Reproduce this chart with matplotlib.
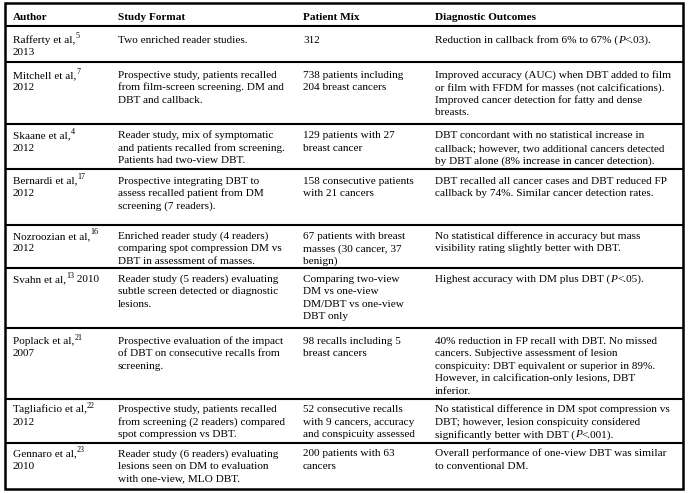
import re
import matplotlib
matplotlib.use('Agg')
import matplotlib.pyplot as plt

plt.rcParams['font.family'] = ['Liberation Serif', 'DejaVu Serif']

headers = ['Author', 'Study Format', 'Patient Mix', 'Diagnostic Outcomes']

# ^{..} = superscript, *..* = italic
authors = [
    'Rafferty et al,^{5}\n2013',
    'Mitchell et al,^{7}\n2012',
    'Skaane et al,^{4}\n2012',
    'Bernardi et al,^{17}\n2012',
    'Nozroozian et al,^{16}\n2012',
    'Svahn et al,^{13} 2010',
    'Poplack et al,^{21}\n2007',
    'Tagliaficio et al,^{22}\n2012',
    'Gennaro et al,^{23}\n2010',
]

study_format = [
    'Two enriched reader studies.',
    'Prospective study, patients recalled\nfrom film-screen screening. DM and\nDBT and callback.',
    'Reader study, mix of symptomatic\nand patients recalled from screening.\nPatients had two-view DBT.',
    'Prospective integrating DBT to\nassess recalled patient from DM\nscreening (7 readers).',
    'Enriched reader study (4 readers)\ncomparing spot compression DM vs\nDBT in assessment of masses.',
    'Reader study (5 readers) evaluating\nsubtle screen detected or diagnostic\nlesions.',
    'Prospective evaluation of the impact\nof DBT on consecutive recalls from\nscreening.',
    'Prospective study, patients recalled\nfrom screening (2 readers) compared\nspot compression vs DBT.',
    'Reader study (6 readers) evaluating\nlesions seen on DM to evaluation\nwith one-view, MLO DBT.',
]

patient_mix = [
    '312',
    '738 patients including\n204 breast cancers',
    '129 patients with 27\nbreast cancer',
    '158 consecutive patients\nwith 21 cancers',
    '67 patients with breast\nmasses (30 cancer, 37\nbenign)',
    'Comparing two-view\nDM vs one-view\nDM/DBT vs one-view\nDBT only',
    '98 recalls including 5\nbreast cancers',
    '52 consecutive recalls\nwith 9 cancers, accuracy\nand conspicuity assessed',
    '200 patients with 63\ncancers',
]

outcomes = [
    'Reduction in callback from 6% to 67% (*P*<.03).',
    'Improved accuracy (AUC) when DBT added to film\nor film with FFDM for masses (not calcifications).\nImproved cancer detection for fatty and dense\nbreasts.',
    'DBT concordant with no statistical increase in\ncallback; however, two additional cancers detected\nby DBT alone (8% increase in cancer detection).',
    'DBT recalled all cancer cases and DBT reduced FP\ncallback by 74%. Similar cancer detection rates.',
    'No statistical difference in accuracy but mass\nvisibility rating slightly better with DBT.',
    'Highest accuracy with DM plus DBT (*P*<.05).',
    '40% reduction in FP recall with DBT. No missed\ncancers. Subjective assessment of lesion\nconspicuity: DBT equivalent or superior in 89%.\nHowever, in calcification-only lesions, DBT\ninferior.',
    'No statistical difference in DM spot compression vs\nDBT; however, lesion conspicuity considered\nsignificantly better with DBT (*P*<.001).',
    'Overall performance of one-view DBT was similar\nto conventional DM.',
]

# layout in pixels
W, H = 689, 493
col_x = [13, 118, 303, 435]
row_edges = [3, 26, 62, 124, 169, 225, 268, 328, 399, 443, 489]
first_base = [17, 16, 14.5, 14.5, 14, 14, 16, 13.5, 13.5]
left, right = 5, 683
fs = 8.1
pitch = 12.4

fig = plt.figure(figsize=(W / 100, H / 100), dpi=100)
ax = fig.add_axes([0, 0, 1, 1])
ax.set_xlim(0, W)
ax.set_ylim(H, 0)
ax.axis('off')
rend = fig.canvas.get_renderer()


def width(s, **kw):
    t = ax.text(0, 0, '|' + s + '|', **kw)
    w1 = t.get_window_extent(rend).width
    t.remove()
    t = ax.text(0, 0, '||', **kw)
    w2 = t.get_window_extent(rend).width
    t.remove()
    return w1 - w2


def draw_line(x, y, line, **kw):
    for part in re.split(r'(\^\{[^}]*\}|\*[^*]*\*)', line):
        if not part:
            continue
        opts = dict(fontsize=fs, va='baseline', ha='left')
        opts.update(kw)
        yy = y
        if part.startswith('^{'):
            part = part[2:-1]
            opts['fontsize'] = fs * 0.72
            yy = y - 4.5
        elif part.startswith('*'):
            part = part[1:-1]
            opts['style'] = 'italic'
        ax.text(x, yy, part, **opts)
        x += width(part, **{k: v for k, v in opts.items()
                            if k in ('fontsize', 'style', 'fontweight')})


for x, h in zip(col_x, headers):
    draw_line(x, 20, h, fontweight='bold')

cols = [authors, study_format, patient_mix, outcomes]
for i in range(len(authors)):
    top = row_edges[i + 1]
    for x, col in zip(col_x, cols):
        for j, line in enumerate(col[i].split('\n')):
            draw_line(x, top + first_base[i] + j * pitch, line)

for y in row_edges[1:-1]:
    ax.plot([left, right], [y, y], color='black', lw=1.5,
            solid_capstyle='butt')
ax.add_patch(plt.Rectangle((left, row_edges[0]), right - left,
                           row_edges[-1] - row_edges[0], fill=False,
                           edgecolor='black', lw=1.8))

fig.savefig('out.png', dpi=100)
